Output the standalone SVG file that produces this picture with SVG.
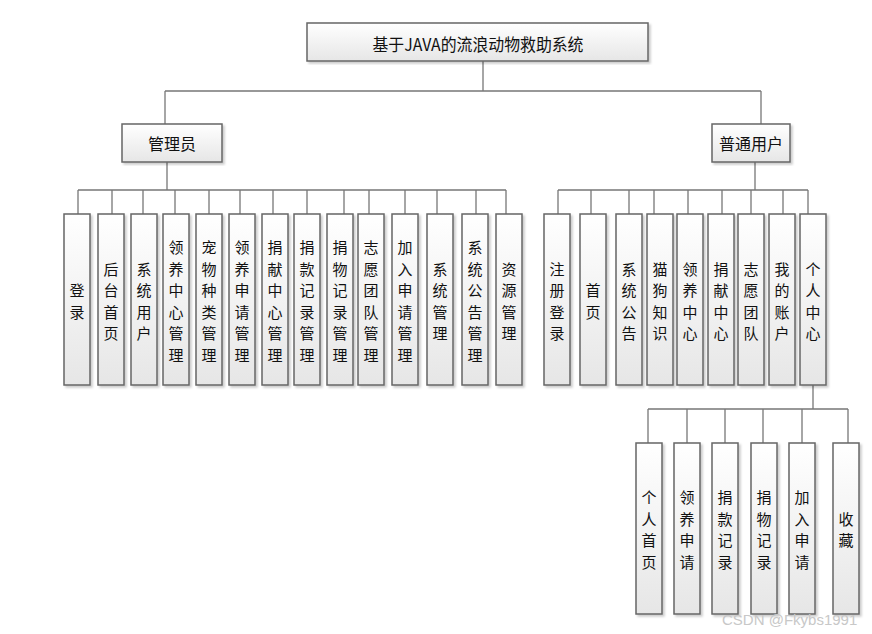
<svg xmlns="http://www.w3.org/2000/svg" width="872" height="634" viewBox="0 0 872 634">
<defs>
<linearGradient id="g" x1="0" y1="0" x2="0" y2="1">
<stop offset="0" stop-color="#ffffff"/>
<stop offset="1" stop-color="#e6e6e6"/>
</linearGradient>
<filter id="sh" x="-20%" y="-5%" width="150%" height="115%">
<feDropShadow dx="2" dy="2" stdDeviation="1" flood-color="#000" flood-opacity="0.2"/>
</filter>
</defs>
<style>
.box{fill:url(#g);stroke:#666;stroke-width:1.5;filter:url(#sh)}
.t{font-family:"Noto Sans CJK SC","Noto Sans",sans-serif;fill:#111;text-anchor:middle;dominant-baseline:central}
.v{font-size:15px}
.p{font-size:16px}
.ttl{font-size:17px}
.c{fill:none;stroke:#777;stroke-width:1.3}
.wm{font-family:"Liberation Sans",Arial,sans-serif;font-size:15px;fill:#c8c8c8}
</style>
<rect width="872" height="634" fill="#fff"/>
<g id="connectors">
<path class="c" d="M483 61V91M165 91H761M165 91V124M761 91V124"/>
<path class="c" d="M167 162V190M78 190H506M78 190V214M112 190V214M143 190V214M175 190V214M209 190V214M240 190V214M273 190V214M307 190V214M344 190V214M369 190V214M405 190V214M437 190V214M476 190V214M506 190V214"/>
<path class="c" d="M755 162V190M558 190H808M558 190V214M591 190V214M629 190V214M654 190V214M688 190V214M722 190V214M751 190V214M783 190V214M808 190V214"/>
<path class="c" d="M813 385V409M648 409H848M648 409V443M687 409V443M725 409V443M763 409V443M802 409V443M848 409V443"/>
</g>
<g id="root"><rect class="box" x="307" y="23" width="341" height="38"/><text class="t ttl" x="478" y="43" textLength="211" lengthAdjust="spacingAndGlyphs">基于JAVA的流浪动物救助系统</text></g>
<g id="admin"><rect class="box" x="122" y="124" width="100" height="38"/><text class="t p" x="172" y="143">管理员</text></g>
<g id="user"><rect class="box" x="712" y="124" width="78" height="38"/><text class="t p" x="751" y="143">普通用户</text></g>

<g id="a1"><rect class="box" x="64" y="214" width="26" height="171"/><text class="t v" x="77"><tspan x="77" y="289">登</tspan><tspan x="77" y="310.5">录</tspan></text></g>
<g id="a2"><rect class="box" x="98" y="214" width="26" height="171"/><text class="t v" x="111"><tspan x="111" y="267.5">后</tspan><tspan x="111" y="289">台</tspan><tspan x="111" y="310.5">首</tspan><tspan x="111" y="332">页</tspan></text></g>
<g id="a3"><rect class="box" x="131" y="214" width="26" height="171"/><text class="t v" x="144"><tspan x="144" y="267.5">系</tspan><tspan x="144" y="289">统</tspan><tspan x="144" y="310.5">用</tspan><tspan x="144" y="332">户</tspan></text></g>
<g id="a4"><rect class="box" x="163" y="214" width="26" height="171"/><text class="t v"><tspan x="176" y="246">领</tspan><tspan x="176" y="267.5">养</tspan><tspan x="176" y="289">中</tspan><tspan x="176" y="310.5">心</tspan><tspan x="176" y="332">管</tspan><tspan x="176" y="353.5">理</tspan></text></g>
<g id="a5"><rect class="box" x="196" y="214" width="26" height="171"/><text class="t v"><tspan x="209" y="246">宠</tspan><tspan x="209" y="267.5">物</tspan><tspan x="209" y="289">种</tspan><tspan x="209" y="310.5">类</tspan><tspan x="209" y="332">管</tspan><tspan x="209" y="353.5">理</tspan></text></g>
<g id="a6"><rect class="box" x="229" y="214" width="26" height="171"/><text class="t v"><tspan x="242" y="246">领</tspan><tspan x="242" y="267.5">养</tspan><tspan x="242" y="289">申</tspan><tspan x="242" y="310.5">请</tspan><tspan x="242" y="332">管</tspan><tspan x="242" y="353.5">理</tspan></text></g>
<g id="a7"><rect class="box" x="262" y="214" width="26" height="171"/><text class="t v"><tspan x="275" y="246">捐</tspan><tspan x="275" y="267.5">献</tspan><tspan x="275" y="289">中</tspan><tspan x="275" y="310.5">心</tspan><tspan x="275" y="332">管</tspan><tspan x="275" y="353.5">理</tspan></text></g>
<g id="a8"><rect class="box" x="294" y="214" width="26" height="171"/><text class="t v"><tspan x="307" y="246">捐</tspan><tspan x="307" y="267.5">款</tspan><tspan x="307" y="289">记</tspan><tspan x="307" y="310.5">录</tspan><tspan x="307" y="332">管</tspan><tspan x="307" y="353.5">理</tspan></text></g>
<g id="a9"><rect class="box" x="327" y="214" width="26" height="171"/><text class="t v"><tspan x="340" y="246">捐</tspan><tspan x="340" y="267.5">物</tspan><tspan x="340" y="289">记</tspan><tspan x="340" y="310.5">录</tspan><tspan x="340" y="332">管</tspan><tspan x="340" y="353.5">理</tspan></text></g>
<g id="a10"><rect class="box" x="358" y="214" width="26" height="171"/><text class="t v"><tspan x="371" y="246">志</tspan><tspan x="371" y="267.5">愿</tspan><tspan x="371" y="289">团</tspan><tspan x="371" y="310.5">队</tspan><tspan x="371" y="332">管</tspan><tspan x="371" y="353.5">理</tspan></text></g>
<g id="a11"><rect class="box" x="392" y="214" width="26" height="171"/><text class="t v"><tspan x="405" y="246">加</tspan><tspan x="405" y="267.5">入</tspan><tspan x="405" y="289">申</tspan><tspan x="405" y="310.5">请</tspan><tspan x="405" y="332">管</tspan><tspan x="405" y="353.5">理</tspan></text></g>
<g id="a12"><rect class="box" x="427" y="214" width="26" height="171"/><text class="t v"><tspan x="440" y="267.5">系</tspan><tspan x="440" y="289">统</tspan><tspan x="440" y="310.5">管</tspan><tspan x="440" y="332">理</tspan></text></g>
<g id="a13"><rect class="box" x="462" y="214" width="26" height="171"/><text class="t v"><tspan x="475" y="246">系</tspan><tspan x="475" y="267.5">统</tspan><tspan x="475" y="289">公</tspan><tspan x="475" y="310.5">告</tspan><tspan x="475" y="332">管</tspan><tspan x="475" y="353.5">理</tspan></text></g>
<g id="a14"><rect class="box" x="496" y="214" width="26" height="171"/><text class="t v"><tspan x="509" y="267.5">资</tspan><tspan x="509" y="289">源</tspan><tspan x="509" y="310.5">管</tspan><tspan x="509" y="332">理</tspan></text></g>

<g id="u1"><rect class="box" x="544" y="214" width="26" height="171"/><text class="t v"><tspan x="557" y="267.5">注</tspan><tspan x="557" y="289">册</tspan><tspan x="557" y="310.5">登</tspan><tspan x="557" y="332">录</tspan></text></g>
<g id="u2"><rect class="box" x="580" y="214" width="26" height="171"/><text class="t v"><tspan x="593" y="289">首</tspan><tspan x="593" y="310.5">页</tspan></text></g>
<g id="u3"><rect class="box" x="616" y="214" width="26" height="171"/><text class="t v"><tspan x="629" y="267.5">系</tspan><tspan x="629" y="289">统</tspan><tspan x="629" y="310.5">公</tspan><tspan x="629" y="332">告</tspan></text></g>
<g id="u4"><rect class="box" x="647" y="214" width="26" height="171"/><text class="t v"><tspan x="660" y="267.5">猫</tspan><tspan x="660" y="289">狗</tspan><tspan x="660" y="310.5">知</tspan><tspan x="660" y="332">识</tspan></text></g>
<g id="u5"><rect class="box" x="677" y="214" width="26" height="171"/><text class="t v"><tspan x="690" y="267.5">领</tspan><tspan x="690" y="289">养</tspan><tspan x="690" y="310.5">中</tspan><tspan x="690" y="332">心</tspan></text></g>
<g id="u6"><rect class="box" x="708" y="214" width="26" height="171"/><text class="t v"><tspan x="721" y="267.5">捐</tspan><tspan x="721" y="289">献</tspan><tspan x="721" y="310.5">中</tspan><tspan x="721" y="332">心</tspan></text></g>
<g id="u7"><rect class="box" x="738" y="214" width="26" height="171"/><text class="t v"><tspan x="751" y="267.5">志</tspan><tspan x="751" y="289">愿</tspan><tspan x="751" y="310.5">团</tspan><tspan x="751" y="332">队</tspan></text></g>
<g id="u8"><rect class="box" x="769" y="214" width="26" height="171"/><text class="t v"><tspan x="782" y="267.5">我</tspan><tspan x="782" y="289">的</tspan><tspan x="782" y="310.5">账</tspan><tspan x="782" y="332">户</tspan></text></g>
<g id="u9"><rect class="box" x="800" y="214" width="26" height="171"/><text class="t v"><tspan x="813" y="267.5">个</tspan><tspan x="813" y="289">人</tspan><tspan x="813" y="310.5">中</tspan><tspan x="813" y="332">心</tspan></text></g>

<g id="p1"><rect class="box" x="636" y="443" width="26" height="171"/><text class="t v"><tspan x="649" y="496">个</tspan><tspan x="649" y="517.5">人</tspan><tspan x="649" y="539">首</tspan><tspan x="649" y="560.5">页</tspan></text></g>
<g id="p2"><rect class="box" x="674" y="443" width="26" height="171"/><text class="t v"><tspan x="687" y="496">领</tspan><tspan x="687" y="517.5">养</tspan><tspan x="687" y="539">申</tspan><tspan x="687" y="560.5">请</tspan></text></g>
<g id="p3"><rect class="box" x="712" y="443" width="26" height="171"/><text class="t v"><tspan x="725" y="496">捐</tspan><tspan x="725" y="517.5">款</tspan><tspan x="725" y="539">记</tspan><tspan x="725" y="560.5">录</tspan></text></g>
<g id="p4"><rect class="box" x="751" y="443" width="26" height="171"/><text class="t v"><tspan x="764" y="496">捐</tspan><tspan x="764" y="517.5">物</tspan><tspan x="764" y="539">记</tspan><tspan x="764" y="560.5">录</tspan></text></g>
<g id="p5"><rect class="box" x="789" y="443" width="26" height="171"/><text class="t v"><tspan x="802" y="496">加</tspan><tspan x="802" y="517.5">入</tspan><tspan x="802" y="539">申</tspan><tspan x="802" y="560.5">请</tspan></text></g>
<g id="p6"><rect class="box" x="833" y="443" width="26" height="171"/><text class="t v"><tspan x="846" y="517.5">收</tspan><tspan x="846" y="539">藏</tspan></text></g>

<text class="wm" x="722" y="625">CSDN @Fkybs1991</text>
</svg>
